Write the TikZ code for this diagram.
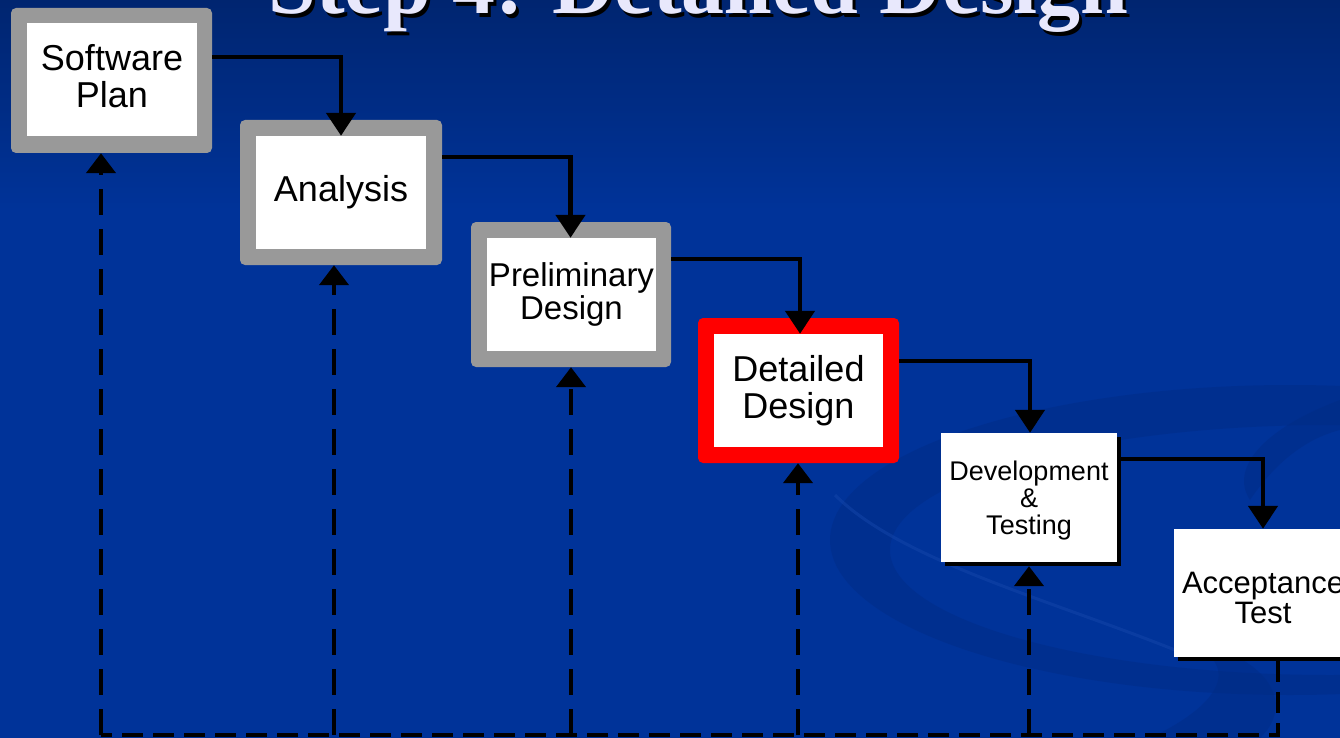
\documentclass[tikz,border=0pt]{standalone}
\usepackage{fontspec}
\setmainfont{Liberation Serif}
\newfontfamily\arial{Liberation Sans}
\usetikzlibrary{arrows.meta}
\definecolor{bgTop}{RGB}{0,37,112}
\definecolor{bgMain}{RGB}{0,51,153}
\definecolor{swirlDark}{RGB}{0,42,130}
\definecolor{swirlLight}{RGB}{20,70,170}
\definecolor{frameGray}{RGB}{153,153,153}
\definecolor{titleCol}{RGB}{232,232,252}
\begin{document}
\begin{tikzpicture}[x=1pt,y=-1pt,
  frm/.style={fill=frameGray, rounded corners=5pt, inner sep=0pt, minimum width=201pt, minimum height=145pt},
  frmred/.style={frm, fill=red},
  inr/.style={fill=white, inner sep=0pt, minimum width=170pt, minimum height=113pt, align=center, font=\arial\fontsize{36}{37}\selectfont},
  txt/.style={inner sep=0pt, align=center},
  plainbox/.style={fill=white, inner sep=0pt},
  shadowbox/.style={fill=black, inner sep=0pt},
  flow/.style={line width=4.8pt, -{Triangle[width=29pt,length=23pt]}},
  fb/.style={line width=4.5pt, dash pattern=on 26pt off 14pt, -{Triangle[width=29pt,length=20pt]}},
  fbline/.style={line width=4.5pt, dash pattern=on 21pt off 10pt}]
% background
\useasboundingbox (0,0) rectangle (1340,738);
\fill[bgMain] (0,0) rectangle (1340,738);
\shade[top color=bgTop, bottom color=bgMain] (0,0) rectangle (1340,210);
% swirl
\fill[swirlDark, even odd rule, opacity=0.4]
  (1290,540) ellipse [x radius=460pt, y radius=155pt]
  (1330,550) ellipse [x radius=440pt, y radius=125pt];
\fill[swirlDark, opacity=0.4] (1340,400) .. controls (1260,430) and (1230,470) .. (1250,500) .. controls (1270,470) and (1300,440) .. (1340,430) -- cycle;
\draw[swirlLight, line width=3pt, opacity=0.5] (835,495) .. controls (900,560) and (1050,600) .. (1175,650);
\fill[swirlDark, opacity=0.4] (1150,738) .. controls (1230,700) and (1240,660) .. (1180,640) .. controls (1260,650) and (1300,700) .. (1260,738) -- cycle;
% title
\node[anchor=base, text=black, font=\bfseries\fontsize{86}{86}\selectfont] at (701.5,17.5) {Step 4: Detailed Design};
\node[anchor=base, text=titleCol, font=\bfseries\fontsize{86}{86}\selectfont] (title) at (698.5,14) {Step 4: Detailed Design};
% boxes
\node[frm] (sp) at (111.5,80.5) {};
\node[inr] (spi) at (112,80) {};
\node[txt, font=\arial\fontsize{36}{37}\selectfont] at (112,76) {Software\\Plan};
\node[frm, minimum width=202pt] (an) at (341,192.5) {};
\node[inr] (ani) at (341,192.5) {Analysis};
\node[frm, minimum width=200pt] (pd) at (571,294.5) {};
\node[inr, minimum width=169pt, font=\arial\fontsize{33}{33}\selectfont] (pdi) at (571.5,294.5) {Preliminary\\Design};
\node[frmred] (dd) at (798.5,390.5) {};
\node[inr, minimum width=169pt] (ddi) at (798.5,390.5) {Detailed\\Design};
\node[shadowbox, minimum width=176pt, minimum height=129pt] (dts) at (1033,501.5) {};
\node[plainbox, minimum width=176pt, minimum height=129pt] (dt) at (1029,497.5) {};
\node[txt, font=\arial\fontsize{27}{27}\selectfont] at (1029,501) {Development\\\&\\Testing};
\node[shadowbox, minimum width=178pt, minimum height=128pt] (ats) at (1267,597) {};
\node[plainbox, minimum width=178pt, minimum height=128pt] (at) at (1263,593) {};
\node[txt, font=\arial\fontsize{31}{30}\selectfont] at (1263,598) {Acceptance\\Test};
% forward flow
\draw[flow] ([yshift=23.5pt]sp.east) -| (ani.north);
\draw[flow] ([yshift=35.5pt]an.east) -| ([xshift=-1pt]pdi.north);
\draw[flow] ([yshift=35.5pt]pd.east) -| ([xshift=1.5pt]ddi.north);
\draw[flow] ([yshift=29.5pt]dd.east) -| ([xshift=1pt]dt.north);
\draw[flow] ([yshift=42.5pt]dts.east) -| (at.north);
% feedback
\coordinate (fbA) at (1278,735);
\coordinate (fb1) at (101,735);
\coordinate (fb2) at (334,735);
\coordinate (fb3) at (571,735);
\coordinate (fb4) at (798,735);
\coordinate (fb5) at (1029,735);
\draw[fbline] (ats.south -| fbA) -- (fbA) -- (fb1);
\draw[fb] (fb1) -- (fb1 |- sp.south);
\draw[fb] (fb2) -- (fb2 |- an.south);
\draw[fb] (fb3) -- (fb3 |- pd.south);
\draw[fb] (fb4) -- (fb4 |- dd.south);
\draw[fb] (fb5) -- (fb5 |- dts.south);
\end{tikzpicture}
\end{document}
